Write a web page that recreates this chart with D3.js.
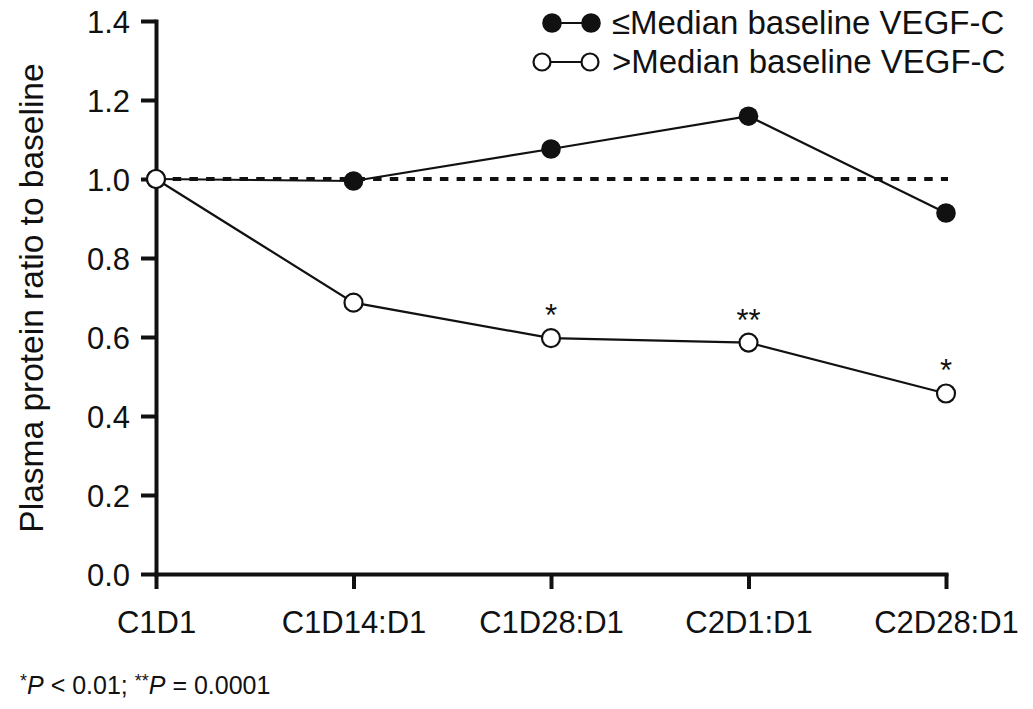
<!DOCTYPE html>
<html>
<head>
<meta charset="utf-8">
<script src="https://cdn.jsdelivr.net/npm/d3@7"></script>
<style>
  body { margin: 0; background: #fff; }
  text { font-family: "Liberation Sans", Arial, Helvetica, sans-serif; fill: #111; }
</style>
</head>
<body>
<div class="container"></div>
<script>
// data
var categories = ['C1D1', 'C1D14:D1', 'C1D28:D1', 'C2D1:D1', 'C2D28:D1'];
var lowVegf = [1.0, 0.995, 1.076, 1.159, 0.914];   // <= median baseline VEGF-C
var highVegf = [1.0, 0.687, 0.597, 0.586, 0.457];  // > median baseline VEGF-C
var highStars = ['', '', '*', '**', '*'];
var yTicks = [0.0, 0.2, 0.4, 0.6, 0.8, 1.0, 1.2, 1.4];
var legendLabels = ['\u2264Median baseline VEGF-C', '>Median baseline VEGF-C'];

const WIDTH = 1033;
const HEIGHT = 709;
const LEFT = 156, RIGHT = 946, TOP = 21, BOTTOM = 574;

var svg = d3.select('.container').append('svg')
    .attr('width', WIDTH)
    .attr('height', HEIGHT);

var xScale = d3.scalePoint()
    .domain(categories)
    .range([LEFT, RIGHT]);

var yScale = d3.scaleLinear()
    .domain([0, 1.4])
    .range([BOTTOM, TOP]);

// axes
var xAxis = d3.axisBottom(xScale).tickSize(15).tickSizeOuter(0).tickPadding(22);
var yAxis = d3.axisLeft(yScale).tickValues(yTicks).tickFormat(d3.format('.1f'))
    .tickSize(15).tickSizeOuter(0).tickPadding(11);

var gx = svg.append('g')
    .attr('transform', 'translate(0,' + BOTTOM + ')')
    .call(xAxis);
var gy = svg.append('g')
    .attr('transform', 'translate(' + LEFT + ',0)')
    .call(yAxis);

[gx, gy].forEach(function (g) {
    g.select('.domain').attr('stroke', '#111').attr('stroke-width', 4).attr('stroke-linecap', 'square');
    g.selectAll('.tick line').attr('stroke', '#111').attr('stroke-width', 4);
    g.selectAll('.tick text').style('font-size', '31px').attr('fill', '#111')
        .style('font-family', '"Liberation Sans", Arial, sans-serif');
});
gy.selectAll('.tick text').attr('dy', '0.36em');

// y title
svg.append('text')
    .attr('transform', 'translate(43,' + 298 + ') rotate(-90)')
    .attr('text-anchor', 'middle')
    .style('font-size', '33.5px')
    .text('Plasma protein ratio to baseline');

// reference line at 1.0
svg.append('line')
    .attr('x1', LEFT).attr('x2', RIGHT + 2)
    .attr('y1', yScale(1)).attr('y2', yScale(1))
    .attr('stroke', '#111').attr('stroke-width', 4)
    .attr('stroke-dasharray', '8.5,8.2');

var line = d3.line()
    .x(function (d, i) { return xScale(categories[i]); })
    .y(function (d) { return yScale(d); });

svg.append('path').datum(lowVegf)
    .attr('d', line).attr('fill', 'none').attr('stroke', '#111').attr('stroke-width', 2.2);
svg.append('path').datum(highVegf)
    .attr('d', line).attr('fill', 'none').attr('stroke', '#111').attr('stroke-width', 2.2);

svg.append('g').selectAll('circle').data(lowVegf)
    .enter().append('circle')
    .attr('cx', function (d, i) { return xScale(categories[i]); })
    .attr('cy', function (d) { return yScale(d); })
    .attr('r', 9.8)
    .attr('fill', '#111');

svg.append('g').selectAll('circle').data(highVegf)
    .enter().append('circle')
    .attr('cx', function (d, i) { return xScale(categories[i]); })
    .attr('cy', function (d) { return yScale(d); })
    .attr('r', 9)
    .attr('fill', '#fff').attr('stroke', '#111').attr('stroke-width', 2.2);

// significance stars
svg.append('g').selectAll('text').data(highVegf)
    .enter().append('text')
    .attr('x', function (d, i) { return xScale(categories[i]); })
    .attr('y', function (d) { return yScale(d) - 12; })
    .attr('text-anchor', 'middle')
    .style('font-size', '31px')
    .text(function (d, i) { return highStars[i]; });

// legend
var legend = svg.append('g');
var legRows = [{ y: 23, x1: 552, x2: 591, filled: true }, { y: 62, x1: 542, x2: 590, filled: false }];
legRows.forEach(function (r, i) {
    legend.append('line')
        .attr('x1', r.x1).attr('x2', r.x2).attr('y1', r.y).attr('y2', r.y)
        .attr('stroke', '#111').attr('stroke-width', 2.2);
    [r.x1, r.x2].forEach(function (cx) {
        legend.append('circle')
            .attr('cx', cx).attr('cy', r.y)
            .attr('r', r.filled ? 9.8 : 8.5)
            .attr('fill', r.filled ? '#111' : '#fff')
            .attr('stroke', '#111').attr('stroke-width', r.filled ? 0 : 2.2);
    });
    legend.append('text')
        .attr('x', 612).attr('y', r.y + 11)
        .style('font-size', '33px')
        .text(legendLabels[i]);
});

// footnote
var foot = svg.append('text')
    .attr('x', 20).attr('y', 694)
    .style('font-size', '25px');
foot.append('tspan').attr('dy', '-7').style('font-size', '18px').text('*');
foot.append('tspan').attr('dy', '7').style('font-style', 'italic').text('P');
foot.append('tspan').text(' < 0.01; ');
foot.append('tspan').attr('dy', '-7').style('font-size', '18px').text('**');
foot.append('tspan').attr('dy', '7').style('font-style', 'italic').text('P');
foot.append('tspan').text(' = 0.0001');
</script>
</body>
</html>
